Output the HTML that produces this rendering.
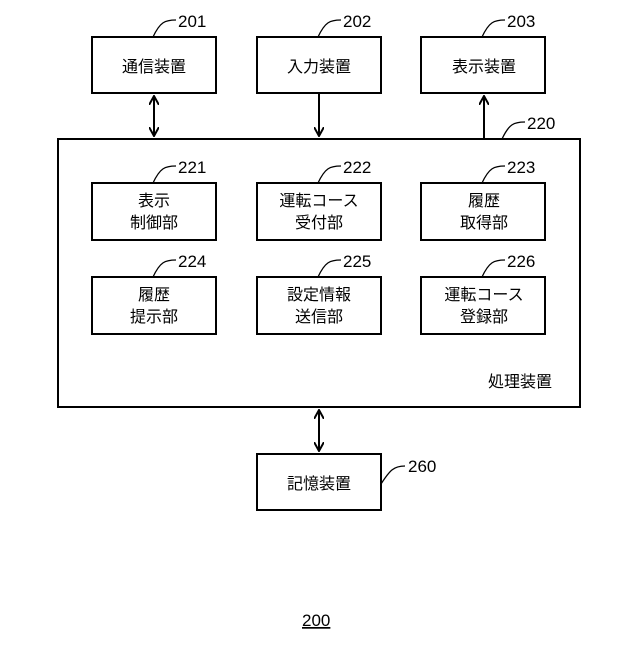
<!DOCTYPE html><html><head><meta charset="utf-8"><style>body{margin:0;background:#fff}svg text{font-family:"Liberation Sans","Noto Sans CJK JP",sans-serif;fill:#000}</style></head><body>
<svg width="640" height="640" viewBox="0 0 640 640" xmlns="http://www.w3.org/2000/svg">
<defs><marker id="a" markerWidth="10" markerHeight="10" refX="9" refY="5" orient="auto-start-reverse" markerUnits="userSpaceOnUse"><path d="M0,0 L9,5 L0,10" fill="none" stroke="#000" stroke-width="2"/></marker></defs>
<g fill="none" stroke="#000" stroke-width="2">
<rect x="92" y="37" width="124" height="56"/><rect x="257" y="37" width="124" height="56"/><rect x="421" y="37" width="124" height="56"/>
<rect x="58" y="139" width="522" height="268"/>
<rect x="92" y="183" width="124" height="57"/><rect x="257" y="183" width="124" height="57"/><rect x="421" y="183" width="124" height="57"/>
<rect x="92" y="277" width="124" height="57"/><rect x="257" y="277" width="124" height="57"/><rect x="421" y="277" width="124" height="57"/>
<rect x="257" y="454" width="124" height="56"/>
<line x1="154" y1="96" x2="154" y2="136" marker-start="url(#a)" marker-end="url(#a)"/>
<line x1="319" y1="93" x2="319" y2="136" marker-end="url(#a)"/>
<line x1="484" y1="139" x2="484" y2="96" marker-end="url(#a)"/>
<line x1="319" y1="410" x2="319" y2="451" marker-start="url(#a)" marker-end="url(#a)"/>
</g>
<g fill="none" stroke="#000" stroke-width="1.3">
<path d="M153,37 C160,22 165,20 176,20"/><path d="M318,37 C325,22 330,20 341,20"/><path d="M482,37 C489,22 494,20 505,20"/>
<path d="M502,139 C509,124 514,122 525,122"/>
<path d="M153,183 C160,168 165,166 176,166"/><path d="M318,183 C325,168 330,166 341,166"/><path d="M482,183 C489,168 494,166 505,166"/>
<path d="M153,277 C160,262 165,260 176,260"/><path d="M318,277 C325,262 330,260 341,260"/><path d="M482,277 C489,262 494,260 505,260"/>
<path d="M381,484 C390,470 394,466 405,466"/>
</g>
<g font-size="17">
<text x="178" y="27">201</text><text x="343" y="27">202</text><text x="507" y="27">203</text><text x="527" y="129">220</text>
<text x="178" y="173">221</text><text x="343" y="173">222</text><text x="507" y="173">223</text>
<text x="178" y="267">224</text><text x="343" y="267">225</text><text x="507" y="267">226</text>
<text x="408" y="472">260</text>
<text x="302" y="626" text-decoration="underline">200</text>
</g>
<g font-size="16" text-anchor="middle">
<text x="154" y="72">通信装置</text><text x="319" y="72">入力装置</text><text x="484" y="72">表示装置</text>
<text x="154" y="206">表示</text><text x="154" y="228">制御部</text>
<text x="319" y="206">運転コース</text><text x="319" y="228">受付部</text>
<text x="484" y="206">履歴</text><text x="484" y="228">取得部</text>
<text x="154" y="300">履歴</text><text x="154" y="322">提示部</text>
<text x="319" y="300">設定情報</text><text x="319" y="322">送信部</text>
<text x="484" y="300">運転コース</text><text x="484" y="322">登録部</text>
<text x="319" y="489">記憶装置</text>
<text x="520" y="387">処理装置</text>
</g>
</svg></body></html>
